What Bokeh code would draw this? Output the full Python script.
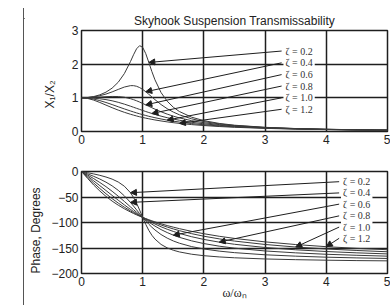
from bokeh.plotting import figure
from bokeh.models import Range1d, FixedTicker, Label, Arrow, NormalHead, Spacer, Div, Title
from bokeh.layouts import column, row
from bokeh.embed import file_html
from bokeh.resources import INLINE

# ---- data ----
ratio = [0, 0.1, 0.2, 0.3, 0.4, 0.5, 0.6, 0.7, 0.8, 0.85, 0.9, 0.95, 1.0, 1.05, 1.1,
         1.15, 1.2, 1.3, 1.4, 1.5, 1.6, 1.8, 2.0, 2.25, 2.5, 3.0, 3.5, 4.0, 4.5, 5.0]

zeta_labels = ["ζ = 0.2", "ζ = 0.4", "ζ = 0.6", "ζ = 0.8", "ζ = 1.0", "ζ = 1.2"]

mag_02 = [1.0, 1.009, 1.038, 1.089, 1.169, 1.288, 1.463, 1.719, 2.076, 2.279, 2.457, 2.549, 2.5, 2.313, 2.051,
          1.780, 1.536, 1.157, 0.900, 0.721, 0.593, 0.425, 0.322, 0.240, 0.187, 0.124, 0.088, 0.066, 0.052, 0.042]
mag_04 = [1.0, 1.007, 1.027, 1.063, 1.112, 1.176, 1.25, 1.320, 1.362, 1.362, 1.343, 1.305, 1.25, 1.182, 1.105,
          1.026, 0.947, 0.801, 0.678, 0.577, 0.496, 0.376, 0.294, 0.225, 0.178, 0.120, 0.086, 0.065, 0.051, 0.041]
mag_06 = [1.0, 1.003, 1.011, 1.022, 1.034, 1.041, 1.038, 1.018, 0.975, 0.946, 0.912, 0.874, 0.833, 0.791, 0.748,
          0.706, 0.664, 0.586, 0.517, 0.456, 0.404, 0.321, 0.260, 0.205, 0.165, 0.114, 0.083, 0.064, 0.050, 0.040]
mag_08 = [1.0, 0.997, 0.988, 0.972, 0.947, 0.912, 0.867, 0.813, 0.752, 0.720, 0.688, 0.657, 0.625, 0.594, 0.564,
          0.535, 0.508, 0.456, 0.410, 0.370, 0.334, 0.274, 0.228, 0.184, 0.152, 0.107, 0.080, 0.061, 0.049, 0.040]
mag_10 = [1.0, 0.990, 0.962, 0.917, 0.862, 0.8, 0.735, 0.671, 0.610, 0.581, 0.552, 0.526, 0.5, 0.476, 0.452,
          0.431, 0.410, 0.372, 0.338, 0.308, 0.281, 0.236, 0.2, 0.165, 0.138, 0.1, 0.076, 0.059, 0.047, 0.038]
mag_12 = [1.0, 0.982, 0.932, 0.862, 0.784, 0.707, 0.635, 0.570, 0.512, 0.486, 0.461, 0.438, 0.417, 0.396, 0.378,
          0.360, 0.343, 0.313, 0.286, 0.262, 0.241, 0.205, 0.177, 0.148, 0.125, 0.093, 0.071, 0.056, 0.045, 0.037]

phase_02 = [0, -2.3, -4.8, -7.5, -10.8, -14.9, -20.6, -28.8, -41.6, -50.8, -62.2, -75.6, -90, -103.7, -115.5,
            -125.0, -132.5, -143.0, -149.7, -154.4, -157.7, -162.2, -165.1, -167.5, -169.2, -171.5, -172.9, -173.9, -174.7, -175.2]
phase_04 = [0, -4.6, -9.5, -14.8, -20.9, -28.1, -36.9, -47.7, -60.6, -67.8, -75.2, -82.7, -90, -97.0, -103.4,
            -109.3, -114.6, -123.6, -130.6, -136.2, -140.6, -147.3, -151.9, -156.1, -159.1, -163.3, -166.0, -168.0, -169.4, -170.5]
phase_06 = [0, -6.9, -14.0, -21.6, -29.7, -38.7, -48.4, -58.7, -69.4, -74.8, -80.0, -85.1, -90, -94.7, -99.0,
            -103.2, -107.0, -113.9, -119.7, -124.8, -129.1, -136.0, -141.3, -146.4, -150.3, -155.8, -159.5, -162.3, -164.3, -166.0]
phase_08 = [0, -9.2, -18.4, -27.8, -37.3, -46.8, -56.3, -65.5, -74.3, -78.5, -82.5, -86.3, -90, -93.5, -96.8,
            -99.9, -102.9, -108.4, -113.2, -117.5, -121.4, -127.9, -133.2, -138.5, -142.7, -149.0, -153.5, -156.9, -159.5, -161.6]
phase_10 = [0, -11.4, -22.6, -33.4, -43.6, -53.1, -61.9, -70.0, -77.3, -80.7, -84.0, -87.1, -90, -92.8, -95.5,
            -98.0, -100.4, -104.9, -108.9, -112.6, -116.0, -121.9, -126.9, -132.1, -136.4, -143.1, -148.1, -151.9, -154.9, -157.4]
phase_12 = [0, -13.6, -26.6, -38.3, -48.8, -58.0, -66.0, -73.1, -79.4, -82.3, -85.0, -87.6, -90, -92.3, -94.5,
            -96.7, -98.7, -102.5, -106.0, -109.1, -112.1, -117.4, -122.0, -127.0, -131.2, -138.0, -143.2, -147.4, -150.7, -153.4]

x_ticks = [0, 1, 2, 3, 4, 5]
mag_ticks = [0, 1, 2, 3]
phase_ticks = [-200, -150, -100, -50, 0]

mags = [mag_02, mag_04, mag_06, mag_08, mag_10, mag_12]
phases = [phase_02, phase_04, phase_06, phase_08, phase_10, phase_12]

# annotation placement (data coordinates)
top_label_x = 3.30
top_label_y = [2.39, 2.04, 1.69, 1.35, 1.0, 0.66]
top_tip_ratio = [1.1, 1.05, 1.05, 1.15, 1.4, 1.6]
bot_label_x = 4.24
bot_label_y = [-20, -42, -64, -87, -109, -131]
bot_tip_ratio = [0.8, 0.8, 1.5, 2.25, 3.5, 4.0]

INK = "#1e1e1e"
CURVE = "#3a3a3a"
TXT = "#222222"
EDGE = "#555555"


def base_fig(height, yr, yticks, top, bottom):
    p = figure(width=366, height=height, x_range=Range1d(0, 5), y_range=Range1d(*yr),
               output_backend="svg", toolbar_location=None,
               min_border_left=55, min_border_right=3, min_border_top=top, min_border_bottom=bottom,
               background_fill_color="white", border_fill_color="white")
    p.outline_line_color = INK
    p.outline_line_width = 1.5
    for ax, ticks in ((p.xaxis, x_ticks), (p.yaxis, yticks)):
        ax.ticker = FixedTicker(ticks=ticks)
        ax.axis_line_color = None
        ax.major_tick_line_color = None
        ax.minor_tick_line_color = None
        ax.major_tick_out = 0
        ax.major_tick_in = 0
        ax.major_label_text_font = "Liberation Sans"
        ax.major_label_text_font_size = "12px"
        ax.major_label_text_color = TXT
        ax.major_label_standoff = 3
        ax.axis_label_text_font = "Liberation Sans"
        ax.axis_label_text_font_size = "12px"
        ax.axis_label_text_font_style = "normal"
        ax.axis_label_text_color = TXT
    p.xgrid.ticker = FixedTicker(ticks=x_ticks)
    p.ygrid.ticker = FixedTicker(ticks=yticks)
    for g in (p.xgrid, p.ygrid):
        g.grid_line_color = INK
        g.grid_line_width = 1.5
    return p


def annotate(p, series, lx, ly, tips):
    for i in range(len(zeta_labels)):
        idx = ratio.index(tips[i])
        p.add_layout(Arrow(end=NormalHead(size=6, fill_color=INK, line_color=INK, line_width=1),
                           x_start=lx - 0.03, y_start=ly[i], x_end=tips[i], y_end=series[i][idx],
                           line_color=INK, line_width=1))
    for i, lab in enumerate(zeta_labels):
        p.add_layout(Label(x=lx, y=ly[i], text=lab, text_font="Liberation Serif", text_font_size="10px",
                           text_color="#333333", text_align="left", text_baseline="middle",
                           background_fill_color="white", padding=2))


def side_title(text, offset, standoff, valign):
    return Title(text=text, align="left", offset=offset, standoff=standoff, vertical_align=valign,
                 text_font="Liberation Sans", text_font_size="12px", text_font_style="normal",
                 text_color=TXT)


def rule(w, h):
    return Div(text='<div style="width:%dpx;height:%dpx;background:%s;"></div>' % (w, h, EDGE),
               width=w, height=h, margin=0)


# ---- top: magnitude ----
p1 = base_fig(140, (0, 3), mag_ticks, 22, 17)
p1.title.text = "Skyhook Suspension Transmissability"
p1.title.align = "center"
p1.title.text_font = "Liberation Sans"
p1.title.text_font_style = "normal"
p1.title.text_font_size = "12px"
p1.title.text_color = TXT
p1.title.standoff = 6
for s in mags:
    p1.line(ratio, s, line_color=CURVE, line_width=1)
annotate(p1, mags, top_label_x, top_label_y, top_tip_ratio)
p1.add_layout(side_title("X₁/X₂", 23, 23, "bottom"), "left")

# ---- bottom: phase ----
p2 = base_fig(155, (-200, 0), phase_ticks, 23, 30)
for s in phases:
    p2.line(ratio, s, line_color=CURVE, line_width=1)
annotate(p2, phases, bot_label_x, bot_label_y, bot_tip_ratio)
p2.add_layout(side_title("Phase, Degrees", 0, 8, "top"), "left")
p2.xaxis.axis_label = "ω/ωₙ"
p2.xaxis.axis_label_text_font = "Liberation Serif"
p2.xaxis.axis_label_standoff = -3

layout = column(
    Spacer(width=390, height=7, margin=0),
    row(Spacer(width=23, height=1, margin=0), rule(367, 1)),
    row(Spacer(width=23, height=297, margin=0), rule(1, 297), column(p1, p2)),
)

open("out.html", "w").write(file_html(layout, INLINE))
